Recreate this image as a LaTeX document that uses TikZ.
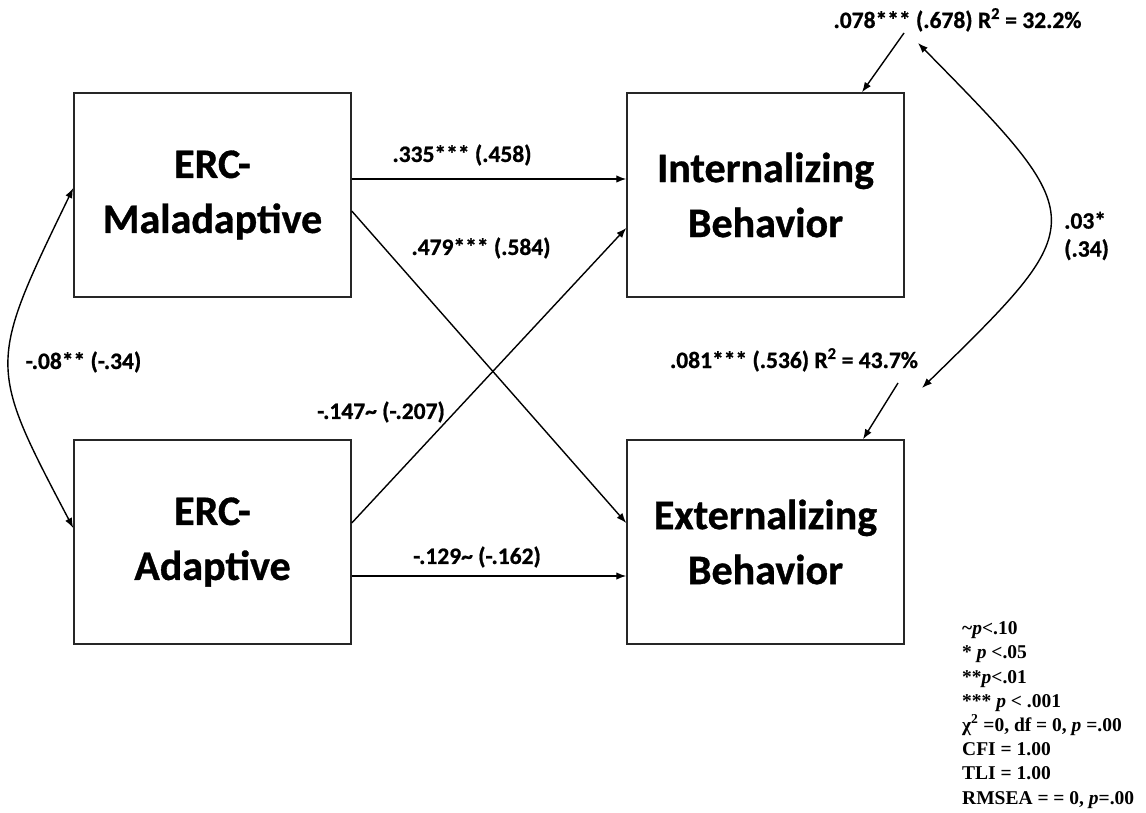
\documentclass[tikz,border=0pt]{standalone}
\usepackage{fontspec}
\setmainfont{Carlito}[BoldFont={Carlito Bold}, BoldFeatures={FakeBold=0.8}]
\newfontfamily\legfont{Liberation Serif}[BoldFont={Liberation Serif Bold}, BoldItalicFont={Liberation Serif Bold Italic}]
\usetikzlibrary{arrows.meta}
\begin{document}
\begin{tikzpicture}[x=1pt,y=-1pt,
  box/.style={draw=black!85, line width=1.5pt, minimum width=277pt, minimum height=204pt, inner sep=0pt, align=center, font=\fontsize{42}{55}\selectfont\bfseries},
  lab/.style={font=\fontsize{23.5}{28}\selectfont\bfseries, inner sep=0pt},
  legend/.style={font=\legfont\fontsize{19.5}{24.2}\selectfont\bfseries, align=left, inner sep=0pt},
  tip/.tip={Latex[length=10pt,width=7.5pt]},
  arr/.style={-tip, line width=1.4pt},
  biarr/.style={tip-tip, line width=1.4pt}]
\useasboundingbox[fill=white] (0,0) rectangle (1146,813);
% boxes
\node[box] (mal)  at (212.5,195) {ERC-\\Maladaptive};
\node[box] (int)  at (765.5,195) {Internalizing\\Behavior};
\node[box] (adap) at (212.5,542) {ERC-\\Adaptive};
\node[box] (ext)  at (765.5,542) {Externalizing\\Behavior};
% paths
\draw[arr] ([yshift=16pt]mal.east) -- ([yshift=16pt]int.west);
\draw[arr] ([yshift=-16pt]mal.east) -- ([yshift=19pt]ext.west);
\draw[arr] ([yshift=19pt]adap.east) -- ([yshift=-33pt]int.west);
\draw[arr] ([yshift=-34pt]adap.east) -- ([yshift=-34pt]ext.west);
% path labels
\node[lab] (l1) at (462,155) {.335*** (.458)};
\node[lab] (l2) at (481,248) {.479*** (.584)};
\node[lab] (l3) at (381,412) {-.147\textasciitilde{} (-.207)};
\node[lab] (l4) at (477,557) {-.129\textasciitilde{} (-.162)};
% covariance left
\draw[biarr] ([yshift=7pt]mal.west) .. controls (-12.5,365) and (-12.5,365) .. ([yshift=14pt]adap.west);
\node[lab] (l5) at (83.5,362) {-.08** (-.34)};
% residuals
\node[lab, anchor=base] (r1) at (957.5,28) {.078*** (.678) R\textsuperscript{2} = 32.2\%};
\node[lab, anchor=base] (r2) at (794,368) {.081*** (.536) R\textsuperscript{2} = 43.7\%};
\coordinate (r1s) at (904,33);
\coordinate (r2s) at (898,383);
\draw[arr] (r1s) -- ([xshift=96.5pt]int.north);
\draw[arr] (r2s) -- ([xshift=97.5pt]ext.north);
% covariance right
\coordinate (c1) at (918,43);
\coordinate (c2) at (922,388);
\draw[biarr] (c1) .. controls (1093,221) and (1093,221) .. (c2);
\node[lab, align=left, anchor=west] (l6) at (1064,236) {.03*\\(.34)};
% legend
\node[legend, anchor=base west] (leg) at (962,804) {\textasciitilde\textit{p}<.10\\
* \textit{p} <.05\\
**\textit{p}<.01\\
*** \textit{p} < .001\\
χ\textsuperscript{2} =0, df = 0, \textit{p} =.00\\
CFI = 1.00\\
TLI = 1.00\\
RMSEA = = 0, \textit{p}=.00};
\end{tikzpicture}
\end{document}
